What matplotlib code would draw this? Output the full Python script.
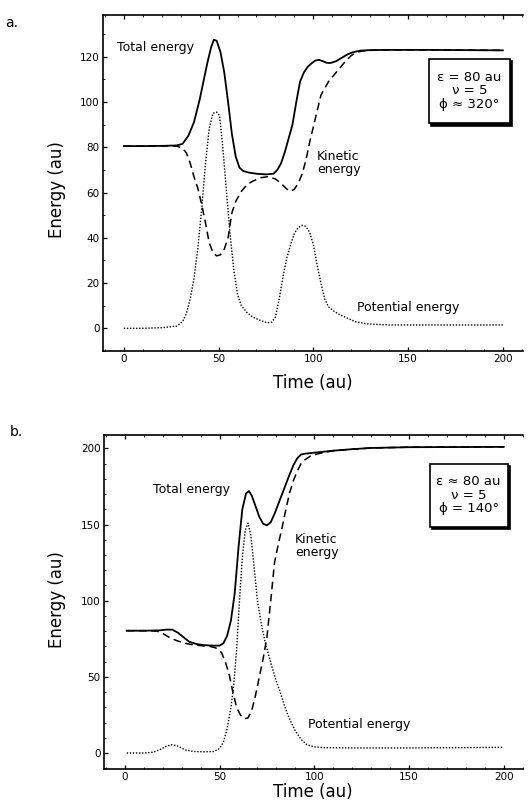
import matplotlib
matplotlib.use('Agg')
import matplotlib.pyplot as plt
from matplotlib.patches import Rectangle
from matplotlib.ticker import MultipleLocator
from matplotlib.transforms import offset_copy

# panel a: total, kinetic, potential energy vs time
a_tot_t = [0, 10, 20, 28, 31, 34, 37, 40, 42, 44, 46, 47.5, 49, 51, 53, 55, 57, 59, 61, 63, 66, 70, 75, 79,
           81, 83, 85, 87, 89, 91, 93, 95, 97, 99, 101, 103, 105, 107, 109, 112, 115, 118, 121, 125, 130,
           140, 160, 180, 200]
a_tot_e = [80.5, 80.5, 80.6, 80.8, 81.5, 85, 91, 101, 109, 117, 124, 127.5, 127, 122, 113, 100, 86, 76, 71,
           69.5, 68.8, 68.3, 68, 68.3, 70, 73, 78, 84, 90, 100, 109, 113, 115.5, 117, 118.3, 118.6, 118,
           117.3, 117.2, 118, 119.5, 121, 122, 122.7, 122.9, 123, 123, 122.9, 122.8]

a_kin_t = [0, 10, 20, 28, 31, 33, 35, 37, 39, 41, 43, 45, 47, 49, 51, 53, 55, 57, 59, 62, 65, 68, 72, 76,
           80, 83, 86, 88, 90, 92, 94, 96, 98, 100, 102, 104, 106, 108, 111, 114, 117, 120, 123, 126, 130,
           140, 160, 180, 200]
a_kin_e = [80.5, 80.5, 80.6, 80.5, 79.5, 77.5, 73, 67, 62, 55, 47, 38, 33.5, 32, 32.5, 35, 40, 51, 56, 60.5,
           63.5, 65, 66.5, 67, 66, 64, 61.5, 60.5, 61.5, 64, 68, 74, 82, 89, 96, 103, 106, 109, 112, 115,
           118, 120.5, 122, 122.5, 122.8, 123, 123, 122.9, 122.8]

a_pot_t = [0, 10, 20, 28, 31, 33, 35, 37, 39, 41, 43, 45, 47, 49, 50.5, 52, 54, 56, 58, 60, 62, 65, 68, 72,
           75.5, 78, 80, 82, 84, 86, 88, 90, 92, 94, 96, 98, 100, 102, 104, 106, 108, 111, 114, 118, 122,
           128, 140, 160, 180, 200]
a_pot_e = [0, 0, 0.3, 1, 3, 6.5, 13, 22, 35, 52, 72, 88, 95, 95.5, 94, 82, 62, 42, 26, 15, 10, 7, 5, 3.5,
           2.5, 2.7, 5, 13, 23, 31, 37, 42, 44.5, 45.5, 45, 42.5, 37, 28, 20, 13, 9.5, 7.5, 6, 4.5, 3, 2,
           1.5, 1.5, 1.5, 1.5]

# panel b
b_tot_t = [1, 10, 18, 22, 25, 28, 31, 34, 38, 42, 46, 50, 52, 54, 56, 58, 60, 62, 64, 65.5, 67, 69, 71, 73,
           75, 77, 79, 81, 83, 85, 87, 89, 91, 93, 95, 100, 110, 120, 130, 150, 175, 200]
b_tot_e = [80.3, 80.3, 80.5, 81, 81, 79, 76, 73, 71.5, 70.8, 70.5, 70.5, 72, 77, 87, 105, 135, 160, 170.5,
           172, 169, 162, 155, 150.5, 149.5, 151.5, 157, 163.5, 170, 176.5, 183, 189, 193.5, 196, 196.5,
           197.2, 198.5, 199.5, 200.3, 200.8, 200.9, 201]

b_kin_t = [1, 10, 17, 20, 24, 28, 32, 36, 40, 45, 48, 51, 53, 55, 57, 59, 61, 63, 65, 67, 69, 71, 73, 75,
           77, 79, 81, 83, 85, 87, 89, 91, 93, 95, 98, 102, 110, 120, 130, 150, 175, 200]
b_kin_e = [80.3, 80.3, 80, 78.5, 75.5, 73.5, 72, 71, 70.5, 70, 69, 66, 60, 52, 40, 30, 25, 22.5, 23, 28, 38,
           50, 62, 76, 100, 125, 137, 148, 160, 171, 179, 185, 190, 192.5, 195, 196.5, 198.5, 199.5,
           200.3, 200.8, 200.9, 201]

b_pot_t = [1, 10, 15, 19, 22, 25, 28, 32, 36, 42, 47, 50, 52, 54, 56, 57.5, 59, 60.5, 62, 63.5, 65, 66.5,
           68, 70, 72, 74, 76, 78, 80, 82, 84, 86, 88, 90, 93, 96, 100, 105, 120, 150, 175, 200]
b_pot_e = [0, 0, 0.5, 2.5, 4.5, 5.5, 4.5, 2, 1, 0.8, 1, 3, 7, 16, 30, 45, 68, 100, 128, 146, 151, 143, 125,
           100, 85, 73, 64, 55, 47, 40, 32, 25, 19.5, 14.5, 9, 5.5, 4, 3.5, 3.3, 3.3, 3.5, 3.7]

fig = plt.figure(figsize=(5.32, 8.08), dpi=100)
ax1 = fig.add_axes([0.1936, 0.5656, 0.789, 0.4158])
ax2 = fig.add_axes([0.1955, 0.0483, 0.787, 0.4137])


def style(ax, xlim, ylim, ymaj):
    ax.set_xlim(*xlim)
    ax.set_ylim(*ylim)
    ax.xaxis.set_major_locator(MultipleLocator(50))
    ax.xaxis.set_minor_locator(MultipleLocator(10))
    ax.yaxis.set_major_locator(MultipleLocator(ymaj))
    ax.yaxis.set_minor_locator(MultipleLocator(10))
    ax.spines['right'].set_visible(False)
    for s in ['left', 'bottom', 'top']:
        ax.spines[s].set_linewidth(1.2)
    ax.tick_params(which='both', direction='in', top=True, right=False, labelsize=7.5)
    ax.tick_params(which='major', length=3, width=0.9, pad=2.5)
    ax.tick_params(which='minor', length=1.5, width=0.6)


def param_box(ax, x0, x1, y0, y1, txt):
    # framed box with a drop shadow, text on top
    shadow = offset_copy(ax.transData, fig=fig, x=2.5, y=-2.5, units='dots')
    ax.add_patch(Rectangle((x0, y0), x1 - x0, y1 - y0, transform=shadow, fc='k', ec='k', lw=1.2, zorder=4))
    ax.add_patch(Rectangle((x0, y0), x1 - x0, y1 - y0, fc='w', ec='k', lw=1.2, zorder=5))
    ax.text((x0 + x1) / 2, (y0 + y1) / 2, txt, ha='center', va='center', fontsize=9.5,
            linespacing=1.05, zorder=6)


for ax, (tt, te), (kt, ke), (pt, pe) in [
        (ax1, (a_tot_t, a_tot_e), (a_kin_t, a_kin_e), (a_pot_t, a_pot_e)),
        (ax2, (b_tot_t, b_tot_e), (b_kin_t, b_kin_e), (b_pot_t, b_pot_e))]:
    ax.plot(tt, te, color='k', lw=1.3, solid_joinstyle='round')
    ax.plot(kt, ke, color='k', lw=1.1, dashes=(5, 3))
    ax.plot(pt, pe, color='k', lw=1.0, dashes=(1, 1.2))

style(ax1, (-11, 210.5), (-10, 138.4), 20)
style(ax2, (-11, 210), (-10.5, 209), 50)

ax1.text(-3.5, 124.2, 'Total energy', fontsize=9, ha='left', va='center')
ax1.text(101.8, 73.2, 'Kinetic\nenergy', fontsize=9, ha='left', va='center', linespacing=1.0)
ax1.text(123, 9, 'Potential energy', fontsize=9, ha='left', va='center')
param_box(ax1, 161, 203.7, 90.7, 119, 'ε = 80 au\nν = 5\nϕ ≈ 320°')

ax2.text(14.8, 172.7, 'Total energy', fontsize=9, ha='left', va='center')
ax2.text(89.7, 135.6, 'Kinetic\nenergy', fontsize=9, ha='left', va='center', linespacing=1.0)
ax2.text(96.6, 19, 'Potential energy', fontsize=9, ha='left', va='center')
param_box(ax2, 161, 202, 148.4, 189.8, 'ε ≈ 80 au\nν = 5\nϕ = 140°')

fig.text(12 / 532, 1 - 23 / 808, 'a.', fontsize=10, ha='center', va='center')
fig.text(16 / 532, 1 - 432 / 808, 'b.', fontsize=10, ha='center', va='center')
fig.text(57 / 532, 1 - 190 / 808, 'Energy (au)', fontsize=12, rotation=90, ha='center', va='center')
fig.text(57 / 532, 1 - 600 / 808, 'Energy (au)', fontsize=12, rotation=90, ha='center', va='center')
fig.text(313 / 532, 1 - 383 / 808, 'Time (au)', fontsize=12, ha='center', va='center')
fig.text(313 / 532, 1 - 792 / 808, 'Time (au)', fontsize=12, ha='center', va='center')

fig.savefig('out.png', dpi=100)
